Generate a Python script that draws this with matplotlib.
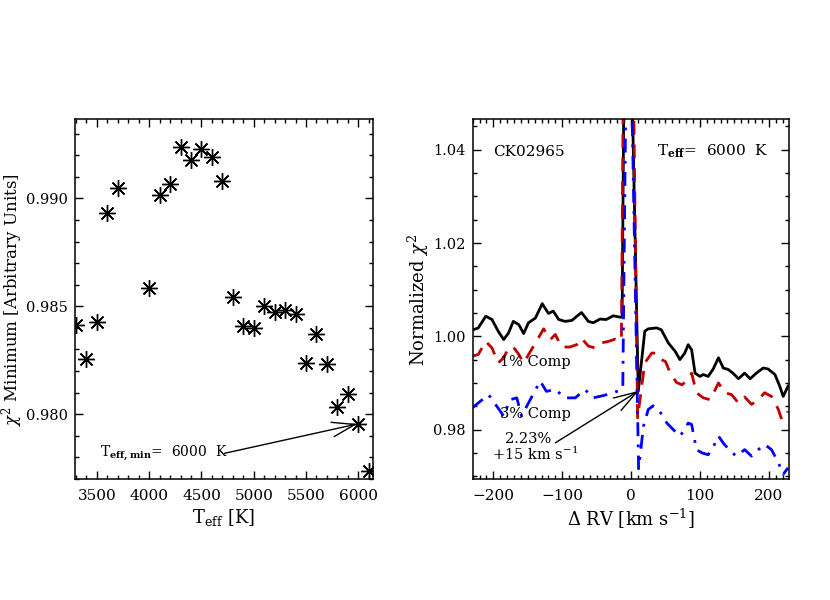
"""
Chi^2 minimum vs Teff and normalized chi^2 vs delta RV for CK02965
"""

import matplotlib
matplotlib.use("Agg")
import matplotlib.pyplot as plt
from matplotlib.ticker import MultipleLocator, FormatStrFormatter

plt.rcParams["font.family"] = ["DejaVu Serif"]
plt.rcParams["mathtext.fontset"] = "dejavuserif"

# left panel: chi^2 minimum per template temperature
teff = [3300, 3400, 3500, 3600, 3700, 4000, 4100, 4200, 4300, 4400, 4500, 4600,
        4700, 4800, 4900, 5000, 5100, 5200, 5300, 5400, 5500, 5600, 5700, 5800,
        5900, 6000, 6100]
chi_min = [0.98415, 0.98256, 0.98426, 0.98930, 0.99046, 0.98584, 0.99015, 0.99066,
           0.99236, 0.99178, 0.99227, 0.99193, 0.99081, 0.98545, 0.98410, 0.98400,
           0.98503, 0.98472, 0.98483, 0.98465, 0.98236, 0.98369, 0.98233, 0.98035,
           0.98094, 0.97954, 0.97738]

# right panel: normalized chi^2 curves (peak near 0 runs off the top)
rv_black = [-231, -222, -211, -202, -193, -185, -178, -171, -163, -156, -149, -139,
            -129, -120, -113, -105, -96, -86, -72, -62, -55, -45, -36, -26, -16,
            -13, -10, 0.5, 10.5, 20, 25, 37, 44, 54, 64, 71, 78, 83, 88, 93, 100,
            105, 112, 119, 127, 134, 141, 148, 156, 165, 173, 182, 192, 199, 209,
            216, 221, 228]
chi_black = [1.0013, 1.0018, 1.0043, 1.0036, 1.0011, 0.9993, 1.0007, 1.0032, 1.0025,
             1.0006, 1.0029, 1.0039, 1.0070, 1.0049, 1.0054, 1.0036, 1.0032, 1.0034,
             1.0051, 1.0032, 1.0029, 1.0037, 1.0036, 1.0044, 1.0041, 1.0041, 1.0600,
             1.0600, 0.9882, 1.0011, 1.0016, 1.0018, 1.0014, 0.9986, 0.9968, 0.9950,
             0.9964, 0.9982, 0.9971, 0.9921, 0.9914, 0.9918, 0.9914, 0.9929, 0.9954,
             0.9932, 0.9929, 0.9921, 0.9909, 0.9921, 0.9909, 0.9921, 0.9932, 0.9930,
             0.9918, 0.9893, 0.9871, 0.9893]

rv_red = [-231, -222, -211, -202, -193, -185, -178, -171, -163, -156, -146, -136,
          -127, -117, -110, -101, -89, -79, -72, -62, -52, -43, -33, -23, -14,
          -11, 3, 9.5, 20, 30, 37, 44, 50, 57, 66, 74, 83, 88, 95, 105, 115, 127,
          136, 146, 156, 165, 175, 185, 194, 204, 214, 219, 228]
chi_red = [0.9957, 0.9961, 0.9989, 0.9975, 0.9943, 0.9954, 0.9975, 0.9977, 0.9961,
           0.9943, 0.9968, 0.9993, 1.0016, 0.9993, 1.0004, 0.9977, 0.9977, 0.9982,
           0.9996, 0.9979, 0.9975, 0.9986, 0.9989, 0.9994, 0.9991, 1.0600, 1.0600,
           0.9825, 0.9943, 0.9964, 0.9964, 0.9950, 0.9946, 0.9921, 0.9901, 0.9896,
           0.9907, 0.9921, 0.9879, 0.9868, 0.9864, 0.9900, 0.9879, 0.9875, 0.9857,
           0.9870, 0.9854, 0.9864, 0.9879, 0.9871, 0.9843, 0.9821, 0.9839]

rv_blue = [-231, -222, -207, -195, -185, -176, -166, -159, -149, -132, -123, -110,
           -96, -81, -67, -55, -40, -26, -13, -12, -7, 0, 11, 18, 25, 32, 40, 52,
           64, 71, 78, 83, 88, 95, 103, 112, 119, 127, 134, 144, 153, 165, 175,
           185, 194, 204, 214, 221, 228]
chi_blue = [0.9846, 0.9857, 0.9875, 0.9850, 0.9829, 0.9864, 0.9868, 0.9829, 0.9857,
            0.9904, 0.9882, 0.9886, 0.9868, 0.9868, 0.9886, 0.9868, 0.9873, 0.9879,
            0.9886, 0.9889, 1.0600, 1.0600, 0.9716, 0.9807, 0.9843, 0.9851, 0.9843,
            0.9814, 0.9796, 0.9786, 0.9800, 0.9814, 0.9811, 0.9757, 0.9750, 0.9746,
            0.9761, 0.9786, 0.9771, 0.9754, 0.9743, 0.9757, 0.9743, 0.9757, 0.9768,
            0.9757, 0.9729, 0.9704, 0.9718]


def idl_ticks(ax):
    ax.tick_params(which="both", direction="in", top=True, right=True,
                   labelsize=11, pad=7)
    ax.tick_params(axis="y", labelsize=10.5, pad=5)
    ax.tick_params(which="major", length=6, width=1)
    ax.tick_params(which="minor", length=3, width=1)
    for s in ax.spines.values():
        s.set_linewidth(1.1)


fig = plt.figure(figsize=(8.3, 6), dpi=100)

# ---- left panel
ax1 = fig.add_axes([75 / 830, 121 / 600, 298 / 830, 360 / 600])
ax1.plot(teff, chi_min, ls="none", marker=(8, 2, 0), ms=12, mew=1, color="black")
ax1.plot(teff, chi_min, ls="none", marker="o", ms=2.5, color="black")
ax1.set_xlim(3290, 6141)
ax1.set_ylim(0.97699, 0.99368)
ax1.xaxis.set_major_locator(MultipleLocator(500))
ax1.xaxis.set_minor_locator(MultipleLocator(100))
ax1.yaxis.set_major_locator(MultipleLocator(0.005))
ax1.yaxis.set_minor_locator(MultipleLocator(0.001))
ax1.yaxis.set_major_formatter(FormatStrFormatter("%.3f"))
idl_ticks(ax1)
ax1.set_xlabel(r"T$_{\rm eff}$ [K]", fontsize=13, labelpad=3)
fig.text(12 / 830, 0.5, r"$\chi^2$ Minimum [Arbitrary Units]", fontsize=12,
         rotation=90, ha="center", va="center")
ax1.annotate("", xy=(5990, 0.97954), xytext=(4720, 0.97818),
             arrowprops=dict(arrowstyle="->,head_length=1.1,head_width=0.35",
                             mutation_scale=15, lw=1, color="black",
                             shrinkA=0, shrinkB=0))
ax1.text(3530, 0.97818, r"T$_{\bf eff,min}$=  6000  K", fontsize=10, va="center", ha="left")

# ---- right panel
ax2 = fig.add_axes([472.7 / 830, 121 / 600, 316 / 830, 360 / 600])
ax2.plot(rv_black, chi_black, color="black", lw=2)
ax2.plot(rv_red, chi_red, color="#c00000", lw=2, ls=(0, (5, 3.5)))
ax2.plot(rv_blue, chi_blue, color="#0000ff", lw=2, ls=(0, (5, 3, 1, 3)))
ax2.set_xlim(-230, 229)
ax2.set_ylim(0.9694, 1.0466)
ax2.xaxis.set_major_locator(MultipleLocator(100))
ax2.xaxis.set_minor_locator(MultipleLocator(10))
ax2.yaxis.set_major_locator(MultipleLocator(0.02))
ax2.yaxis.set_minor_locator(MultipleLocator(0.005))
ax2.yaxis.set_major_formatter(FormatStrFormatter("%.2f"))
idl_ticks(ax2)
ax2.set_xlabel(r"$\Delta$ RV [km s$^{-1}$]", fontsize=13, labelpad=3)
fig.text(418 / 830, 0.5, r"Normalized $\chi^2$", fontsize=13,
         rotation=90, ha="center", va="center")

ax2.text(-200, 1.0396, "CK02965", fontsize=11, va="center", ha="left")
ax2.text(200, 1.0396, r"T$_{\bf eff}$=  6000  K", fontsize=11, va="center", ha="right")
ax2.text(-190, 0.9944, "1% Comp", fontsize=10.5, va="center", ha="left")
ax2.text(-190, 0.9834, "3% Comp", fontsize=10.5, va="center", ha="left")
ax2.text(-150, 0.97800, "2.23%", fontsize=10.5, va="center", ha="center")
ax2.text(-140, 0.97460, r"+15 km s$^{-1}$", fontsize=10.5, va="center", ha="center")
ax2.annotate("", xy=(11, 0.9883), xytext=(-110, 0.97715),
             arrowprops=dict(arrowstyle="->,head_length=1.1,head_width=0.35",
                             mutation_scale=15, lw=1, color="black",
                             shrinkA=0, shrinkB=0))

fig.savefig("out.png", dpi=100)
